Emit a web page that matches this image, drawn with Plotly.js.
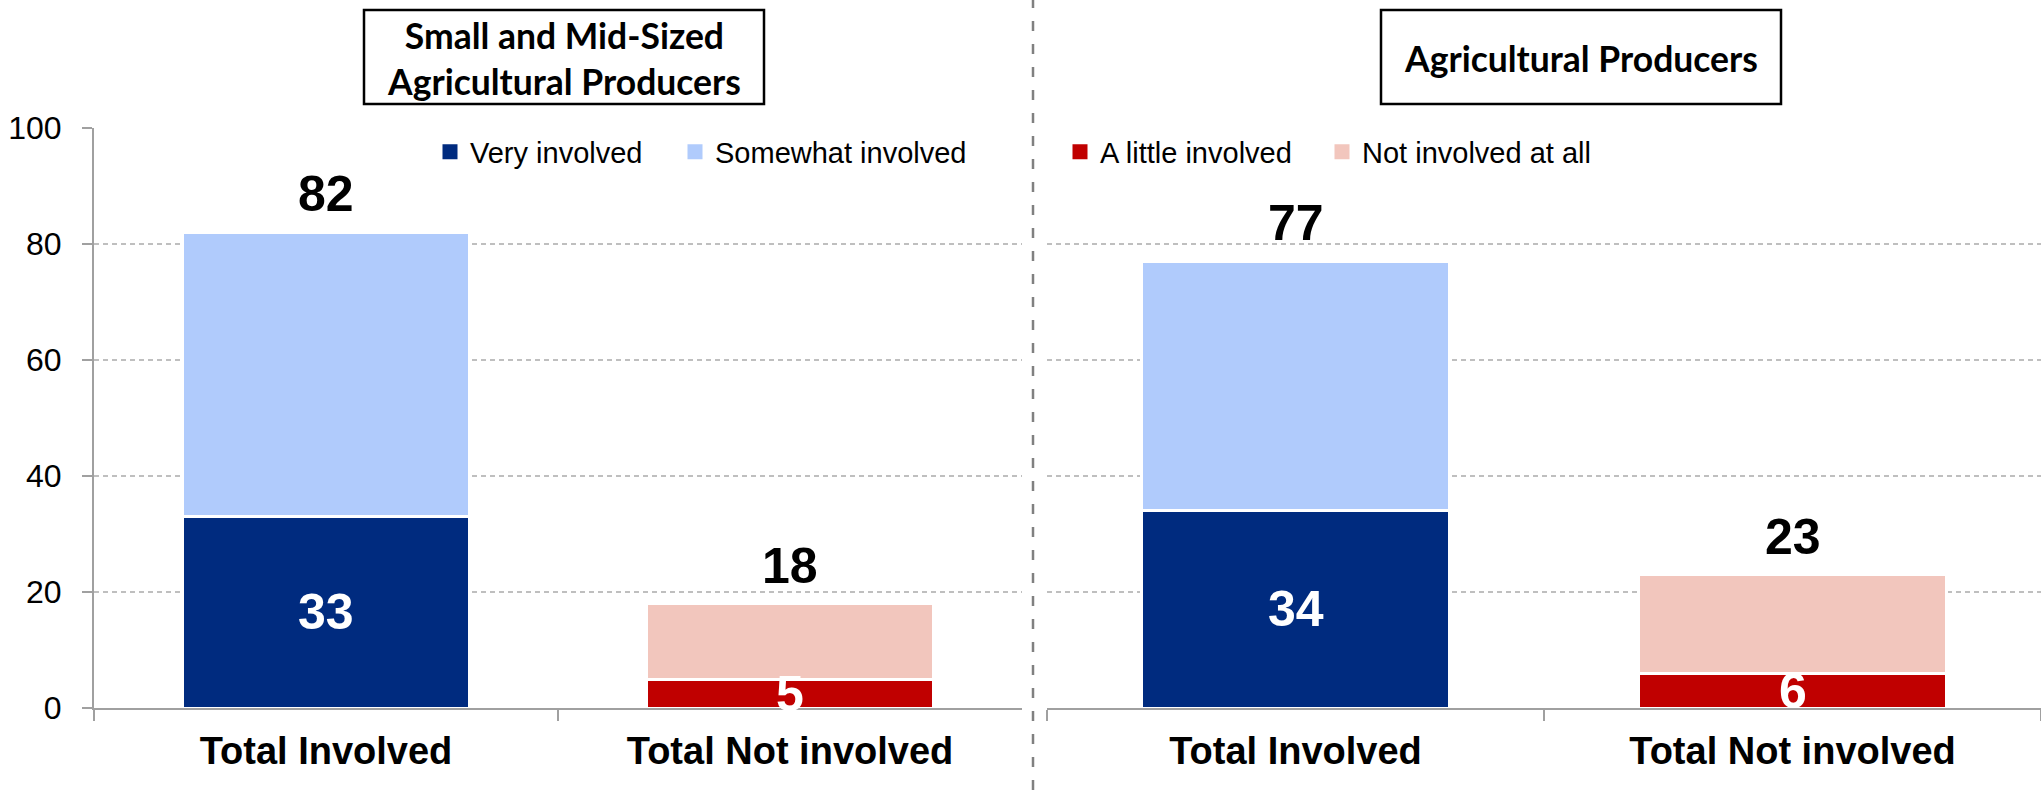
<!DOCTYPE html>
<html>
<head>
<meta charset="utf-8">
<script src="https://cdn.plot.ly/plotly-3.0.1.min.js"></script>
<style>
  html, body { margin: 0; padding: 0; background: #fff; }
  #chart { width: 2041px; height: 790px; }
</style>
</head>
<body>
<div id="chart"></div>
<script>
// ---- data ----
const categories = ['Total Involved', 'Total Not involved'];
const panelTitles = ['Small and Mid-Sized<br>Agricultural Producers', 'Agricultural Producers'];
// index 0 = left panel, index 1 = right panel
const veryInvolved = [33, 34];
const somewhatInvolved = [49, 43];
const littleInvolved = [5, 6];
const notInvolvedAtAll = [13, 17];
const totalInvolved = [82, 77];
const totalNotInvolved = [18, 23];
const yTicks = [0, 20, 40, 60, 80, 100];

// ---- styles ----
const W = 2041, H = 790;
const px = v => v / W;
const py = v => (H - v) / H;
const FONT = '"Liberation Sans", Arial, sans-serif';
const colors = {
  very: '#002B7F',
  somewhat: '#B0CBFC',
  little: '#C00000',
  notAtAll: '#F2C6BD'
};
const names = {
  very: 'Very involved',
  somewhat: 'Somewhat involved',
  little: 'A little involved',
  notAtAll: 'Not involved at all'
};

const traces = [];
[0, 1].forEach(p => {
  const xa = p === 0 ? 'x' : 'x2';
  const ya = p === 0 ? 'y' : 'y2';
  const series = [
    ['very', categories[0], veryInvolved[p]],
    ['somewhat', categories[0], somewhatInvolved[p]],
    ['little', categories[1], littleInvolved[p]],
    ['notAtAll', categories[1], notInvolvedAtAll[p]]
  ];
  series.forEach(([key, cat, val]) => {
    traces.push({
      type: 'bar',
      x: [cat],
      y: [val],
      name: names[key],
      xaxis: xa,
      yaxis: ya,
      showlegend: false,
      marker: { color: colors[key], line: { color: '#ffffff', width: 3 } },
      hoverinfo: 'skip'
    });
  });
});
// legend entries (square swatches)
[['very', 'legend', 'x', 'y', 200], ['somewhat', 'legend', 'x', 'y', 0],
 ['little', 'legend2', 'x2', 'y2', 217], ['notAtAll', 'legend2', 'x2', 'y2', 0]].forEach(([key, lg, xa, ya, lw]) => {
  const t = {
    type: 'scatter', mode: 'markers', x: [null], y: [null],
    name: names[key], legend: lg, xaxis: xa, yaxis: ya, showlegend: true,
    marker: { symbol: 'square', size: 15, color: colors[key] },
    hoverinfo: 'skip'
  };
  if (lw) t.legendwidth = lw;
  traces.push(t);
});

const annotations = [];
[0, 1].forEach(p => {
  const xr = p === 0 ? 'x' : 'x2';
  const yr = p === 0 ? 'y' : 'y2';
  // inside labels
  annotations.push({ xref: xr, yref: yr, x: categories[0], y: veryInvolved[p] / 2,
    text: String(veryInvolved[p]), showarrow: false, yanchor: 'middle',
    font: { family: FONT, size: 50, color: '#ffffff', weight: 'bold' } });
  annotations.push({ xref: xr, yref: yr, x: categories[1], y: littleInvolved[p] / 2,
    text: String(littleInvolved[p]), showarrow: false, yanchor: 'middle',
    font: { family: FONT, size: 50, color: '#ffffff', weight: 'bold' } });
  // totals
  annotations.push({ xref: xr, yref: yr, x: categories[0], y: totalInvolved[p],
    text: String(totalInvolved[p]), showarrow: false, yanchor: 'middle', yshift: 38,
    font: { family: FONT, size: 50, color: '#000000', weight: 'bold' } });
  annotations.push({ xref: xr, yref: yr, x: categories[1], y: totalNotInvolved[p],
    text: String(totalNotInvolved[p]), showarrow: false, yanchor: 'middle', yshift: 38,
    font: { family: FONT, size: 50, color: '#000000', weight: 'bold' } });
});
// panel titles
const boxX = [[364, 764], [1381, 1781]];
const shapes = [];
[0, 1].forEach(p => {
  shapes.push({ type: 'rect', xref: 'paper', yref: 'paper',
    x0: px(boxX[p][0]), x1: px(boxX[p][1]), y0: py(104), y1: py(10),
    line: { color: '#000000', width: 2.5 }, fillcolor: 'rgba(0,0,0,0)' });
  annotations.push({ xref: 'paper', yref: 'paper',
    x: px((boxX[p][0] + boxX[p][1]) / 2), y: py(59),
    xanchor: 'center', yanchor: 'middle', showarrow: false,
    text: '<b>' + panelTitles[p] + '</b>',
    font: { family: 'Lato, "Open Sans", sans-serif', size: 35.5, color: '#000000' } });
});
// dashed divider
shapes.push({ type: 'line', xref: 'paper', yref: 'paper',
  x0: px(1033), x1: px(1033), y0: 0, y1: 1,
  line: { color: '#808080', width: 2.5, dash: '10px,13px' } });

const yDomain = [py(708), py(128)];
const gridStyle = { showgrid: true, gridcolor: '#BFBFBF', gridwidth: 1.5, griddash: '5px,4px' };
const xCommon = {
  type: 'category',
  categoryorder: 'array',
  categoryarray: categories,
  showline: true, linecolor: '#A0A0A0', linewidth: 2,
  ticks: 'outside', tickson: 'boundaries', ticklen: 11, tickcolor: '#A0A0A0', tickwidth: 1.5,
  tickfont: { family: FONT, size: 38, color: '#000000', weight: 'bold' },
  ticklabelstandoff: 8,
  showgrid: false, zeroline: false, fixedrange: true
};

const legendCommon = {
  orientation: 'h', yanchor: 'middle', xanchor: 'left', y: py(152),
  font: { family: FONT, size: 29, color: '#000000' }, bgcolor: 'rgba(0,0,0,0)',
  traceorder: 'normal'
};

const layout = {
  width: W, height: H,
  margin: { l: 0, r: 0, t: 0, b: 0 },
  paper_bgcolor: '#ffffff', plot_bgcolor: 'rgba(0,0,0,0)',
  barmode: 'stack', bargap: 0.38,
  font: { family: FONT, color: '#000000' },
  xaxis: Object.assign({}, xCommon, { domain: [px(94), px(1022)], anchor: 'y' }),
  xaxis2: Object.assign({}, xCommon, { domain: [px(1047), 1], anchor: 'y2' }),
  yaxis: Object.assign({}, gridStyle, {
    domain: yDomain, range: [0, 100], tickvals: yTicks, ticktext: yTicks.map(String),
    showline: true, linecolor: '#A0A0A0', linewidth: 2,
    ticks: 'outside', ticklen: 10, tickcolor: '#A0A0A0', tickwidth: 1.5,
    tickfont: { family: FONT, size: 32, color: '#000000' },
    ticklabelstandoff: 14, zeroline: false, anchor: 'x', fixedrange: true
  }),
  yaxis2: Object.assign({}, gridStyle, {
    domain: yDomain, range: [0, 100], tickvals: yTicks,
    showline: false, showticklabels: false, ticks: '', zeroline: false, anchor: 'x2', fixedrange: true
  }),
  legend: Object.assign({}, legendCommon, { x: px(430) }),
  legend2: Object.assign({}, legendCommon, { x: px(1060) }),
  annotations: annotations,
  shapes: shapes
};

Plotly.newPlot('chart', traces, layout, { displayModeBar: false, staticPlot: true });
</script>
</body>
</html>
